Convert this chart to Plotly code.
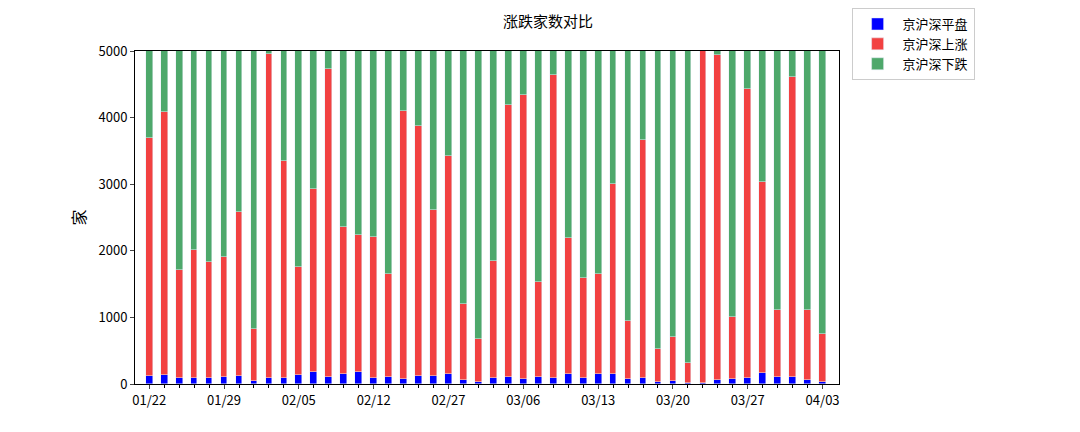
import plotly.graph_objects as go

dates = [
    "01/22", "01/23", "01/24", "01/25", "01/26",
    "01/29", "01/30", "01/31", "02/01", "02/02",
    "02/05", "02/06", "02/07", "02/08", "02/09",
    "02/12", "02/20", "02/21", "02/22", "02/23",
    "02/27", "02/28", "02/29", "03/01", "03/04",
    "03/06", "03/07", "03/08", "03/11", "03/12",
    "03/13", "03/14", "03/15", "03/18", "03/19",
    "03/20", "03/21", "03/22", "03/25", "03/26",
    "03/27", "03/28", "03/29", "04/01", "04/02",
    "04/03",
]
# 京沪深平盘
flat = [115, 140, 95, 90, 95, 105, 125, 50, 90, 90,
        135, 180, 105, 155, 185, 95, 110, 80, 120, 125,
        145, 60, 30, 95, 100, 70, 100, 95, 145, 95,
        155, 150, 75, 95, 30, 40, 10, 20, 55, 80,
        85, 160, 105, 110, 60, 30]
# 平盘+上涨 累计高度
up_top = [3700, 4087, 1707, 2018, 1832, 1903, 2585, 823, 4955, 3348,
          1752, 2927, 4729, 2354, 2234, 2204, 1657, 4101, 3880, 2615,
          3419, 1205, 673, 1843, 4187, 4337, 1526, 4644, 2199, 1596,
          1657, 2997, 939, 3660, 532, 703, 311, 5050, 4945, 999,
          4428, 3027, 1114, 4603, 1114, 753]
total = 5100

up = [t - f for t, f in zip(up_top, flat)]
down = [total - t for t in up_top]

x = list(range(len(dates)))
font = "Noto Sans CJK SC"

fig = go.Figure()
fig.add_bar(x=x, y=flat, name="京沪深平盘", marker_color="#0000ff", width=0.45)
fig.add_bar(x=x, y=up, name="京沪深上涨", marker_color="#f24141", width=0.45)
fig.add_bar(x=x, y=down, name="京沪深下跌", marker_color="#4ea86b", width=0.45)

fig.update_layout(
    barmode="stack",
    width=1080, height=432,
    margin=dict(l=127, r=116, t=43, b=56),
    paper_bgcolor="white", plot_bgcolor="white",
    font=dict(family=font, size=13, color="black"),
    title=dict(text="涨跌家数对比", x=0.5, xanchor="center", y=0.98, font=dict(size=15)),
    legend=dict(x=0.895, y=1.0, xref="container", yref="container",
                xanchor="right", yanchor="top",
                bordercolor="#cccccc", borderwidth=1, bgcolor="rgba(255,255,255,0.85)",
                font=dict(size=13), traceorder="normal",
                tracegroupgap=0, itemwidth=40),
    bargap=0,
)
fig.update_xaxes(
    range=[-0.95, 46.07], tickvals=x[::5], ticktext=dates[::5],
    ticks="outside", ticklen=4, showgrid=False, zeroline=False,
    showline=True, linecolor="black", mirror=True,
    minor=dict(tickvals=x, ticks="outside", ticklen=3, tickcolor="black"),
)
fig.update_yaxes(
    range=[0, 5000], dtick=1000, ticks="outside", ticklen=4,
    showgrid=False, zeroline=False, showline=True, linecolor="black", mirror=True,
    title=dict(text="家", standoff=8),
)
fig.write_html("out.html")
